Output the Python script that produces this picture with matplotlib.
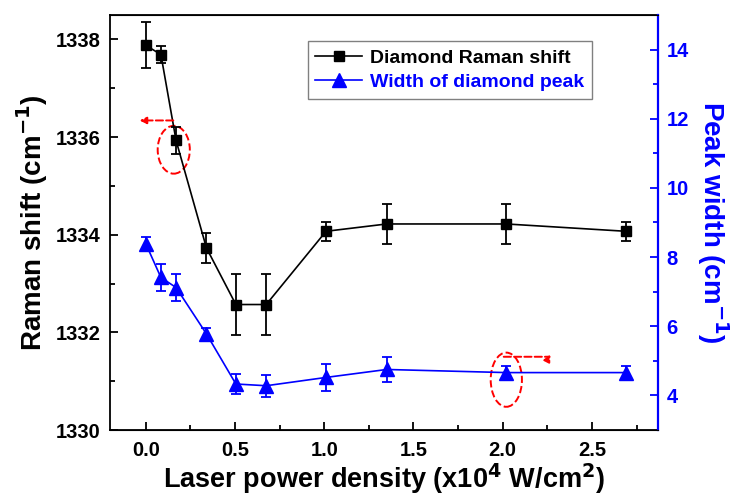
import numpy as np
import matplotlib.pyplot as plt
from matplotlib.lines import Line2D
from matplotlib.patches import Ellipse

plt.rcParams['font.family'] = ['Liberation Sans', 'DejaVu Sans']
plt.rcParams['font.weight'] = 'bold'
plt.rcParams['mathtext.default'] = 'bf'

# data
power = [0.0, 0.085, 0.17, 0.34, 0.505, 0.675, 1.01, 1.35, 2.02, 2.69]
raman_shift = [1337.88, 1337.69, 1335.93, 1333.73, 1332.57, 1332.57, 1334.07, 1334.22, 1334.22, 1334.07]
raman_err = [0.47, 0.17, 0.27, 0.3, 0.63, 0.63, 0.2, 0.41, 0.41, 0.2]
peak_width = [8.39, 7.41, 7.12, 5.78, 4.33, 4.28, 4.52, 4.75, 4.66, 4.66]
width_err = [0.18, 0.4, 0.38, 0.18, 0.28, 0.32, 0.4, 0.35, 0.2, 0.2]

blue = '#0000ff'

fig = plt.figure(figsize=(7.35, 5), dpi=100)
ax = fig.add_axes([0.1497, 0.14, 0.7456, 0.83])
ax2 = ax.twinx()

ax.errorbar(power, raman_shift, yerr=raman_err, color='black', marker='s', markersize=7,
            lw=1.2, capsize=3.5, elinewidth=1.3, capthick=1.3)
ax2.errorbar(power, peak_width, yerr=width_err, color=blue, marker='^', markersize=10,
             lw=1.2, capsize=3.5, elinewidth=1.3, capthick=1.3)

ax.set_xlim(-0.2, 2.87)
ax.set_ylim(1330, 1338.5)
ax2.set_ylim(3, 15)

ax.set_xticks([0.0, 0.5, 1.0, 1.5, 2.0, 2.5])
ax.set_xticks(np.arange(0.25, 2.8, 0.5), minor=True)
ax.set_yticks([1330, 1332, 1334, 1336, 1338])
ax.set_yticks([1331, 1333, 1335, 1337], minor=True)
ax2.set_yticks([4, 6, 8, 10, 12, 14])
ax2.set_yticks([5, 7, 9, 11, 13], minor=True)

ax.tick_params(axis='both', which='both', direction='in', top=False, labelsize=14.5, width=1.3)
ax.tick_params(which='major', length=6)
ax.tick_params(which='minor', length=3.5)
ax.tick_params(axis='x', pad=8)
ax.tick_params(axis='y', pad=7)
ax2.tick_params(axis='y', which='both', direction='in', colors=blue, labelsize=14.5, width=1.3, pad=6)
ax2.tick_params(which='major', length=6)
ax2.tick_params(which='minor', length=3.5)

for s in ax.spines.values():
    s.set_linewidth(1.3)
ax2.spines['right'].set_color(blue)
ax2.spines['right'].set_linewidth(1.6)
ax2.spines['left'].set_visible(False)

ax.set_xlabel('Laser power density (x10$^{4}$ W/cm$^{2}$)', fontsize=19.5, fontweight='bold', labelpad=1)
ax.set_ylabel('Raman shift (cm$^{-1}$)', fontsize=20, fontweight='bold', labelpad=4)
ax2.set_ylabel('Peak width (cm$^{-1}$)', fontsize=20, fontweight='bold', color=blue,
               rotation=270, labelpad=30)

# legend
handles = [Line2D([], [], color='black', marker='s', markersize=7, lw=1.2),
           Line2D([], [], color=blue, marker='^', markersize=10, lw=1.2)]
leg = ax.legend(handles, ['Diamond Raman shift', 'Width of diamond peak'], loc='upper left',
                bbox_to_anchor=(0.343, 0.96), fancybox=False, edgecolor='gray',
                prop={'size': 14, 'weight': 'bold'}, handlelength=2.4, borderpad=0.4,
                labelspacing=0.35, handletextpad=0.4, framealpha=1)
leg.get_frame().set_linewidth(1.0)
leg.get_texts()[1].set_color(blue)

# red dashed annotations
ax.add_patch(Ellipse((0.157, 1335.74), 0.18, 0.98, fill=False, ec='red', ls='--', lw=1.4))
ax.annotate('', xy=(-0.05, 1336.34), xytext=(0.17, 1336.34),
            arrowprops=dict(arrowstyle='-|>', color='red', ls='--', lw=1.4, mutation_scale=10))
ax.add_patch(Ellipse((2.02, 1331.03), 0.175, 1.11, fill=False, ec='red', ls='--', lw=1.4))
ax.annotate('', xy=(2.27, 1331.6), xytext=(1.99, 1331.5),
            arrowprops=dict(arrowstyle='-|>', color='red', ls='--', lw=1.4, mutation_scale=10,
                            connectionstyle='angle,angleA=0,angleB=90,rad=5'))

fig.savefig('out.png', dpi=100)
